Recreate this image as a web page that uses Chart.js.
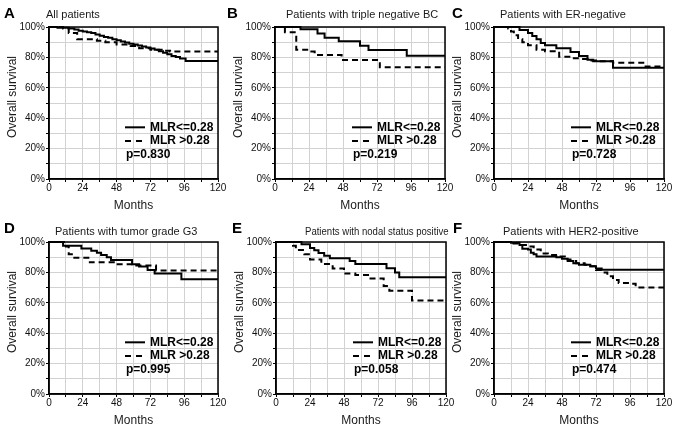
<!DOCTYPE html>
<html><head><meta charset="utf-8">
<script src="https://cdn.jsdelivr.net/npm/chart.js@4.4.1/dist/chart.umd.min.js"></script>
<style>
html,body{margin:0;padding:0;background:#fff;}
#wrap{position:relative;width:677px;height:432px;overflow:hidden;font-family:"Liberation Sans",Arial,sans-serif;background:#fff;}
.letter{position:absolute;font-weight:bold;font-size:15px;line-height:16px;color:#000;}
.ttl{position:absolute;font-size:11px;line-height:13px;color:#1a1a1a;white-space:nowrap;transform-origin:0 50%;}
canvas{position:absolute;}
</style></head><body><div id="wrap"></div>
<script>
// ---- data ----
const xTicks = [0, 24, 48, 72, 96, 120];
const yTicks = [0, 20, 40, 60, 80, 100];
const seriesLabels = ['MLR<=0.28', 'MLR >0.28'];
const panelLetters = ['A', 'B', 'C', 'D', 'E', 'F'];
const panelTitles = ['All patients', 'Patients with triple negative BC', 'Patients with ER-negative',
  'Patients with tumor grade G3', 'Patients with nodal status positive', 'Patients with HER2-positive'];
const pValues = ['p=0.830', 'p=0.219', 'p=0.728', 'p=0.995', 'p=0.058', 'p=0.474'];

const A_lowMonths = [0, 6, 14, 18, 21, 24, 27, 30, 33, 36, 39, 42, 45, 48, 51, 54, 57, 60, 63, 66, 69, 72, 75, 78, 81, 84, 87, 90, 93, 97, 120];
const A_lowSurv   = [100, 99.5, 99, 98.3, 97.5, 97, 96.5, 96, 95, 94.3, 93.5, 93, 92, 91.3, 90.5, 89.8, 89, 88.5, 87.8, 87.2, 86.5, 85.8, 85, 84, 83, 82, 81, 80.2, 79.2, 77.7, 77.7];
const A_highMonths = [0, 10, 14, 20, 34, 40, 48, 58, 64, 72, 80, 86, 120];
const A_highSurv   = [100, 99, 96, 92, 91, 90, 88.5, 87.5, 86, 85, 84.3, 83.8, 83.8];

const B_lowMonths = [0, 18, 30, 35, 45, 60, 66, 93, 120];
const B_lowSurv   = [100, 98.5, 95.8, 93, 90.6, 87.7, 84.9, 81.1, 81.1];
const B_highMonths = [0, 7, 15, 24, 28, 47, 74, 120];
const B_highSurv   = [100, 96.5, 85, 83.8, 81.6, 78.3, 73.5, 73.5];

const C_lowMonths = [0, 18, 24, 27, 30, 33, 36, 44, 54, 60, 66, 70, 84, 120];
const C_lowSurv   = [100, 98, 96, 94, 92, 89.5, 88, 86, 83.5, 81, 78.5, 77.5, 73.2, 73.2];
const C_highMonths = [0, 10, 12, 14, 17, 20, 24, 30, 36, 46, 54, 60, 66, 72, 84, 107, 120];
const C_highSurv   = [100, 99, 97, 94.5, 92, 90, 88, 85, 84, 80.5, 79.5, 79, 78, 77.5, 76.5, 74, 74];

const D_lowMonths = [0, 10, 23, 30, 34, 37, 41, 44, 59, 64, 70, 75, 94, 120];
const D_lowSurv   = [100, 97.6, 95.8, 94.3, 93, 91.4, 90, 88.2, 85.3, 83.8, 81.6, 79.2, 75.5, 75.5];
const D_highMonths = [0, 12, 14, 18, 29, 46, 62, 76, 120];
const D_highSurv   = [100, 97, 92, 89.7, 86.6, 85.3, 84.5, 81.3, 81.3];

const E_lowMonths = [0, 18, 24, 27, 30, 34, 38, 52, 56, 78, 84, 87, 120];
const E_lowSurv   = [100, 98.5, 96, 94.5, 92.8, 91, 89.3, 87.5, 85.5, 82.7, 80, 76.8, 76.8];
const E_highMonths = [0, 12, 14, 20, 24, 32, 40, 48, 56, 66, 76, 80, 96, 120];
const E_highSurv   = [100, 97.5, 94.7, 92, 88.5, 85.5, 82.5, 79.2, 78.3, 76, 71, 68, 61.5, 61.5];

const F_lowMonths = [0, 12, 18, 20, 24, 26, 28, 30, 44, 48, 52, 56, 60, 68, 72, 76, 120];
const F_lowSurv   = [100, 99.5, 98, 95.5, 95, 93, 92, 90.5, 90, 89, 87.5, 86, 85, 84, 82.5, 81.8, 81.8];
const F_highMonths = [0, 12, 18, 24, 28, 33, 38, 46, 50, 54, 58, 64, 68, 72, 76, 80, 84, 88, 96, 100, 120];
const F_highSurv   = [100, 99, 98, 97, 95, 92.5, 91.5, 90.5, 88.5, 87.5, 86, 85, 84, 81.5, 80, 77.5, 75, 73, 72.5, 70, 70];

// ---- layout (pixel geometry of each plot area) ----
const layout = [
  {l: 49,  t: 27,  r: 218, b: 179, lx: 4,   ly: 5,   tx: 46,  ty: 8,   sx: 1},
  {l: 275, t: 27,  r: 445, b: 179, lx: 227, ly: 5,   tx: 286, ty: 8,   sx: 1},
  {l: 494, t: 27,  r: 664, b: 179, lx: 452, ly: 5,   tx: 500, ty: 8,   sx: 1},
  {l: 49,  t: 242, r: 218, b: 394, lx: 4,   ly: 220, tx: 55,  ty: 225, sx: 1},
  {l: 276, t: 242, r: 446, b: 394, lx: 232, ly: 220, tx: 305, ty: 225, sx: 0.87},
  {l: 494, t: 242, r: 664, b: 394, lx: 453, ly: 220, tx: 503, ty: 225, sx: 1}
];
const FONT = '"Liberation Sans", Arial, sans-serif';
const wrap = document.getElementById('wrap');

const kmDeco = {
  id: 'kmDeco',
  afterDraw(chart, args, opts) {
    const ctx = chart.ctx, ca = chart.chartArea, ys = chart.scales.y;
    ctx.save();
    ctx.strokeStyle = '#000'; ctx.lineWidth = 1.5; ctx.setLineDash([]);
    ctx.strokeRect(ca.left, ca.top, ca.right - ca.left, ca.bottom - ca.top);
    const x1 = ca.right - 93, x2 = ca.right - 73, tx = ca.right - 68;
    const y1 = ys.getPixelForValue(34), y2 = ys.getPixelForValue(25), y3 = ys.getPixelForValue(16);
    ctx.lineWidth = 2;
    ctx.beginPath(); ctx.moveTo(x1, y1); ctx.lineTo(x2, y1); ctx.stroke();
    ctx.setLineDash([6, 5]);
    ctx.beginPath(); ctx.moveTo(x1, y2); ctx.lineTo(x2 - 3, y2); ctx.stroke();
    ctx.setLineDash([]);
    ctx.fillStyle = '#000';
    ctx.font = 'bold 12px ' + FONT;
    ctx.textBaseline = 'middle'; ctx.textAlign = 'left';
    ctx.fillText(seriesLabels[0], tx, y1);
    ctx.fillText(seriesLabels[1], tx, y2);
    ctx.fillText(opts.p, x1 + 1, y3);
    ctx.font = '12px ' + FONT;
    ctx.fillStyle = '#1a1a1a';
    ctx.translate(ca.left - 36, (ca.top + ca.bottom) / 2 - 6);
    ctx.rotate(-Math.PI / 2);
    ctx.textAlign = 'center';
    ctx.fillText('Overall survival', 0, 0);
    ctx.restore();
  }
};

function pts(ms, ss) { return ms.map((m, i) => ({x: m, y: ss[i]})); }

function makePanel(i, lowM, lowS, highM, highS) {
  const L = layout[i];
  const padTop = 8, padRight = 12, yAxisW = 49, xAxisH = 36;
  const cw = (L.r - L.l) + yAxisW + padRight, ch = (L.b - L.t) + padTop + xAxisH;
  const cv = document.createElement('canvas');
  cv.width = cw; cv.height = ch;
  cv.style.left = (L.l - yAxisW) + 'px'; cv.style.top = (L.t - padTop) + 'px';
  cv.style.width = cw + 'px'; cv.style.height = ch + 'px';
  wrap.appendChild(cv);

  const let_ = document.createElement('div');
  let_.className = 'letter'; let_.textContent = panelLetters[i];
  let_.style.left = L.lx + 'px'; let_.style.top = L.ly + 'px';
  wrap.appendChild(let_);
  const t = document.createElement('div');
  t.className = 'ttl'; t.textContent = panelTitles[i];
  t.style.left = L.tx + 'px'; t.style.top = L.ty + 'px';
  if (L.sx !== 1) t.style.transform = 'scaleX(' + L.sx + ')';
  wrap.appendChild(t);

  new Chart(cv, {
    type: 'line',
    data: {datasets: [
      {label: seriesLabels[0], data: pts(lowM, lowS), stepped: true, borderColor: '#000', borderWidth: 2,
       pointRadius: 0, fill: false, clip: 3},
      {label: seriesLabels[1], data: pts(highM, highS), stepped: true, borderColor: '#000', borderWidth: 2,
       borderDash: [6, 4], pointRadius: 0, fill: false, clip: 3}
    ]},
    options: {
      responsive: false, animation: false, devicePixelRatio: 1,
      layout: {padding: {top: padTop, right: padRight, left: 0, bottom: 0}},
      plugins: {legend: {display: false}, tooltip: {enabled: false}, kmDeco: {p: pValues[i]}},
      scales: {
        x: {
          type: 'linear', min: xTicks[0], max: xTicks[xTicks.length - 1],
          ticks: {stepSize: 12, autoSkip: false, maxRotation: 0, padding: 0, color: '#111',
                  font: {size: 10, family: FONT},
                  callback: v => xTicks.includes(v) ? String(v) : ''},
          grid: {color: '#d2d2d2', lineWidth: 1, tickLength: 3, tickColor: '#000'},
          border: {color: '#000', width: 1.5},
          title: {display: true, text: 'Months', color: '#1a1a1a', font: {size: 12, family: FONT},
                  padding: {top: 0, bottom: 2}},
          afterFit: s => { s.height = xAxisH; }
        },
        y: {
          type: 'linear', min: yTicks[0], max: yTicks[yTicks.length - 1],
          ticks: {stepSize: 10, autoSkip: false, padding: 1, color: '#111',
                  font: {size: 10, family: FONT},
                  callback: v => yTicks.includes(v) ? v + '%' : ''},
          grid: {color: '#d2d2d2', lineWidth: 1, tickLength: 3, tickColor: '#000'},
          border: {color: '#000', width: 1.5},
          afterFit: s => { s.width = yAxisW; }
        }
      }
    },
    plugins: [kmDeco]
  });
}

makePanel(0, A_lowMonths, A_lowSurv, A_highMonths, A_highSurv);
makePanel(1, B_lowMonths, B_lowSurv, B_highMonths, B_highSurv);
makePanel(2, C_lowMonths, C_lowSurv, C_highMonths, C_highSurv);
makePanel(3, D_lowMonths, D_lowSurv, D_highMonths, D_highSurv);
makePanel(4, E_lowMonths, E_lowSurv, E_highMonths, E_highSurv);
makePanel(5, F_lowMonths, F_lowSurv, F_highMonths, F_highSurv);
</script></body></html>
